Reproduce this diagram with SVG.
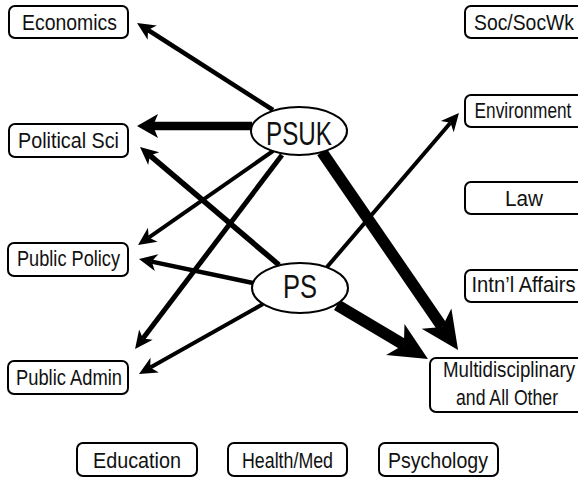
<svg xmlns="http://www.w3.org/2000/svg" width="578" height="478" viewBox="0 0 578 478">
  <style>
    .box { fill: #fff; stroke: #000; stroke-width: 2; }
    .hub { fill: #fff; stroke: #000; stroke-width: 2; }
    .lbl { font-family: "Liberation Sans Narrow", "Liberation Sans", Arial, sans-serif; font-size: 21.5px; fill: #111; text-anchor: middle; }
    .hubl { font-family: "Liberation Sans Narrow", "Liberation Sans", Arial, sans-serif; font-size: 33px; fill: #111; text-anchor: middle; }
    .e { fill: none; stroke: #000; stroke-linecap: butt; }
  </style>
  <defs>
    <marker id="ah-s" markerUnits="userSpaceOnUse" orient="auto" refX="5" refY="0" markerWidth="20" markerHeight="20" overflow="visible">
      <path d="M0,-8.5 L18,0 L0,8.5 L5,0 Z" fill="#000"/>
    </marker>
    <marker id="ah-m" markerUnits="userSpaceOnUse" orient="auto" refX="5" refY="0" markerWidth="22" markerHeight="24" overflow="visible">
      <path d="M0,-12 L21,0 L0,12 L5,0 Z" fill="#000"/>
    </marker>
    <marker id="ah-l" markerUnits="userSpaceOnUse" orient="auto" refX="10" refY="0" markerWidth="40" markerHeight="36" overflow="visible">
      <path d="M0,-18 L38,0 L0,18 L10,0 Z" fill="#000"/>
    </marker>
  </defs>

  <!-- connectors -->
  <g id="connectors">
    <!-- from PSUK -->
    <line class="e" x1="273" y1="110" x2="148" y2="30" stroke-width="4.5" marker-end="url(#ah-s)"/>
    <line class="e" x1="252" y1="126" x2="153" y2="126" stroke-width="8.5" marker-end="url(#ah-m)"/>
    <line class="e" x1="273" y1="151" x2="148.7" y2="237.6" stroke-width="4" marker-end="url(#ah-s)"/>
    <line class="e" x1="282" y1="155" x2="142.9" y2="338.6" stroke-width="5" marker-end="url(#ah-s)"/>
    <line class="e" x1="322" y1="152" x2="442.2" y2="326.9" stroke-width="11.5" marker-end="url(#ah-l)"/>
    <!-- from PS -->
    <line class="e" x1="279" y1="265" x2="149.9" y2="155.4" stroke-width="5.5" marker-end="url(#ah-s)"/>
    <line class="e" x1="253" y1="283" x2="151.7" y2="261.6" stroke-width="4.5" marker-end="url(#ah-s)"/>
    <line class="e" x1="263" y1="304" x2="150.3" y2="367.6" stroke-width="4" marker-end="url(#ah-s)"/>
    <line class="e" x1="327" y1="267" x2="450.5" y2="122.8" stroke-width="4" marker-end="url(#ah-s)"/>
    <line class="e" x1="337" y1="305" x2="403.9" y2="344.7" stroke-width="11.5" marker-end="url(#ah-l)"/>
  </g>

  <!-- hubs -->
  <g id="psuk">
    <ellipse class="hub" cx="299" cy="131" rx="48" ry="24"/>
    <text class="hubl" x="299" y="145" textLength="66" lengthAdjust="spacingAndGlyphs">PSUK</text>
  </g>
  <g id="ps">
    <ellipse class="hub" cx="300" cy="288" rx="48" ry="25"/>
    <text class="hubl" x="300" y="298" textLength="34" lengthAdjust="spacingAndGlyphs">PS</text>
  </g>

  <!-- left column -->
  <g id="economics">
    <rect class="box" x="9" y="6" width="119" height="32" rx="6"/>
    <text class="lbl" x="69.5" y="30" textLength="95" lengthAdjust="spacingAndGlyphs">Economics</text>
  </g>
  <g id="political-sci">
    <rect class="box" x="9" y="124" width="119" height="33" rx="6"/>
    <text class="lbl" x="68.5" y="148" textLength="101" lengthAdjust="spacingAndGlyphs">Political Sci</text>
  </g>
  <g id="public-policy">
    <rect class="box" x="8" y="243" width="120" height="33" rx="6"/>
    <text class="lbl" x="68.5" y="266" textLength="103" lengthAdjust="spacingAndGlyphs">Public Policy</text>
  </g>
  <g id="public-admin">
    <rect class="box" x="8" y="361" width="120" height="33" rx="6"/>
    <text class="lbl" x="69" y="385" textLength="106" lengthAdjust="spacingAndGlyphs">Public Admin</text>
  </g>

  <!-- right column: boxes run past the right edge, labels set condensed -->
  <g id="soc-socwk">
    <rect class="box" x="465" y="6" width="120" height="32" rx="6"/>
    <text class="lbl" transform="translate(524,30) scale(0.8,1)" textLength="125" lengthAdjust="spacingAndGlyphs">Soc/SocWk</text>
  </g>
  <g id="environment">
    <rect class="box" x="465" y="95" width="120" height="32" rx="6"/>
    <text class="lbl" transform="translate(523,118) scale(0.8,1)" textLength="121" lengthAdjust="spacingAndGlyphs">Environment</text>
  </g>
  <g id="law">
    <rect class="box" x="465" y="182" width="120" height="32" rx="6"/>
    <text class="lbl" transform="translate(524,206) scale(0.8,1)" textLength="47.5" lengthAdjust="spacingAndGlyphs">Law</text>
  </g>
  <g id="intnl-affairs">
    <rect class="box" x="465" y="270" width="120" height="32" rx="6"/>
    <text class="lbl" transform="translate(523.5,292) scale(0.8,1)" textLength="130" lengthAdjust="spacingAndGlyphs">Intn’l Affairs</text>
  </g>
  <g id="multidisciplinary">
    <rect class="box" x="430" y="358" width="160" height="54" rx="6"/>
    <text class="lbl" transform="translate(509,377) scale(0.8,1)" textLength="165" lengthAdjust="spacingAndGlyphs">Multidisciplinary</text>
    <text class="lbl" transform="translate(507,405) scale(0.8,1)" textLength="127.5" lengthAdjust="spacingAndGlyphs">and All Other</text>
  </g>

  <!-- bottom row -->
  <g id="education">
    <rect class="box" x="77" y="443" width="120" height="33" rx="6"/>
    <text class="lbl" x="137" y="468" textLength="88" lengthAdjust="spacingAndGlyphs">Education</text>
  </g>
  <g id="health-med">
    <rect class="box" x="228" y="443" width="119" height="33" rx="6"/>
    <text class="lbl" x="287.5" y="468" textLength="91" lengthAdjust="spacingAndGlyphs">Health/Med</text>
  </g>
  <g id="psychology">
    <rect class="box" x="379" y="443" width="119" height="33" rx="6"/>
    <text class="lbl" x="438" y="468" textLength="100" lengthAdjust="spacingAndGlyphs">Psychology</text>
  </g>
</svg>
